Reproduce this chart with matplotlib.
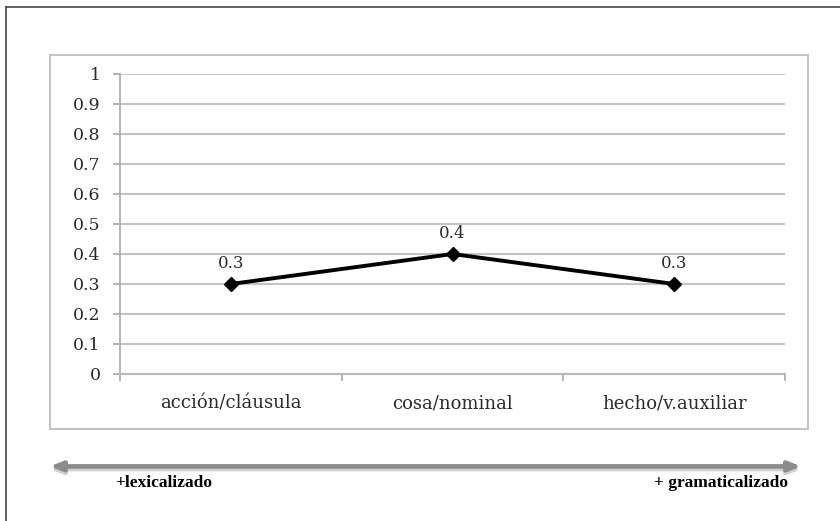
import matplotlib.pyplot as plt
from matplotlib.patches import Rectangle
from matplotlib.lines import Line2D

categories = ["acción/cláusula", "cosa/nominal", "hecho/v.auxiliar"]
values = [0.3, 0.4, 0.3]
yticks = [0, 0.1, 0.2, 0.3, 0.4, 0.5, 0.6, 0.7, 0.8, 0.9, 1]
ytick_labels = ["0", "0.1", "0.2", "0.3", "0.4", "0.5", "0.6", "0.7", "0.8", "0.9", "1"]

W, H = 840, 521
plt.rcParams['font.family'] = ['DejaVu Serif']

fig = plt.figure(figsize=(W / 100, H / 100), dpi=100)

def fx(px):
    return px / W

def fy(py):
    return 1 - py / H

# frame around the figure (only left and top edges show)
fig.add_artist(Line2D([fx(6), fx(6)], [fy(7), 0], color="#444444", lw=1.2))
fig.add_artist(Line2D([fx(6), 1], [fy(7), fy(7)], color="#444444", lw=1.2))

# chart box
fig.add_artist(Rectangle((fx(50), fy(429)), fx(808) - fx(50), fy(55) - fy(429),
                         fill=False, edgecolor="#c4c4c4", lw=1.5))

ax = fig.add_axes([fx(120), fy(374), fx(785) - fx(120), fy(74) - fy(374)])
x = range(len(categories))
ax.plot(x, values, color="black", lw=2.8, marker="D", markersize=7, zorder=3)
for xi, v in zip(x, values):
    ax.annotate(f"{v:g}", (xi, v), xytext=(0, 9), textcoords="offset points",
                ha="center", va="bottom", fontsize=12, color="#2a2a2a")

ax.set_xlim(-0.5, 2.5)
ax.set_ylim(0, 1)
ax.set_yticks(yticks)
ax.set_yticklabels(ytick_labels)
ax.grid(axis="y", color="#c4c4c4", lw=1.5)
ax.set_axisbelow(True)
ax.set_xticks(list(x))
ax.set_xticklabels(categories)
ax.set_xticks([-0.5, 0.5, 1.5, 2.5], minor=True)
ax.tick_params(axis="x", which="major", length=0, pad=15, labelsize=13, labelcolor="#2a2a2a")
ax.tick_params(axis="x", which="minor", length=5, color="#a8a8a8", width=1.2)
ax.tick_params(axis="y", length=5, color="#a8a8a8", width=1.2, pad=9,
               labelsize=12.5, labelcolor="#2a2a2a")
for s in ["top", "right"]:
    ax.spines[s].set_visible(False)
ax.spines["left"].set_color("#a8a8a8")
ax.spines["bottom"].set_color("#b8b8b8")
ax.spines["left"].set_linewidth(1.2)
ax.spines["bottom"].set_linewidth(1.5)

# double arrow below the chart, with a soft shadow
for dy, col in [(2.5, "#d0d0d0"), (0, "#8c8c8c")]:
    fig.add_artist(plt.annotate("", xy=(fx(801), fy(466.5 + dy)), xytext=(fx(50), fy(466.5 + dy)),
                                xycoords="figure fraction", textcoords="figure fraction",
                                arrowprops=dict(arrowstyle="<|-|>,head_length=0.7,head_width=0.28",
                                                color=col, lw=3.2, shrinkA=0, shrinkB=0)))

fig.text(fx(115), fy(483), "+lexicalizado", fontsize=12.5, fontweight="bold",
         family="Liberation Serif", ha="left", va="center", color="black")
fig.text(fx(788), fy(483), "+ gramaticalizado", fontsize=12.5, fontweight="bold",
         family="Liberation Serif", ha="right", va="center", color="black")

fig.savefig("out.png", dpi=100)
